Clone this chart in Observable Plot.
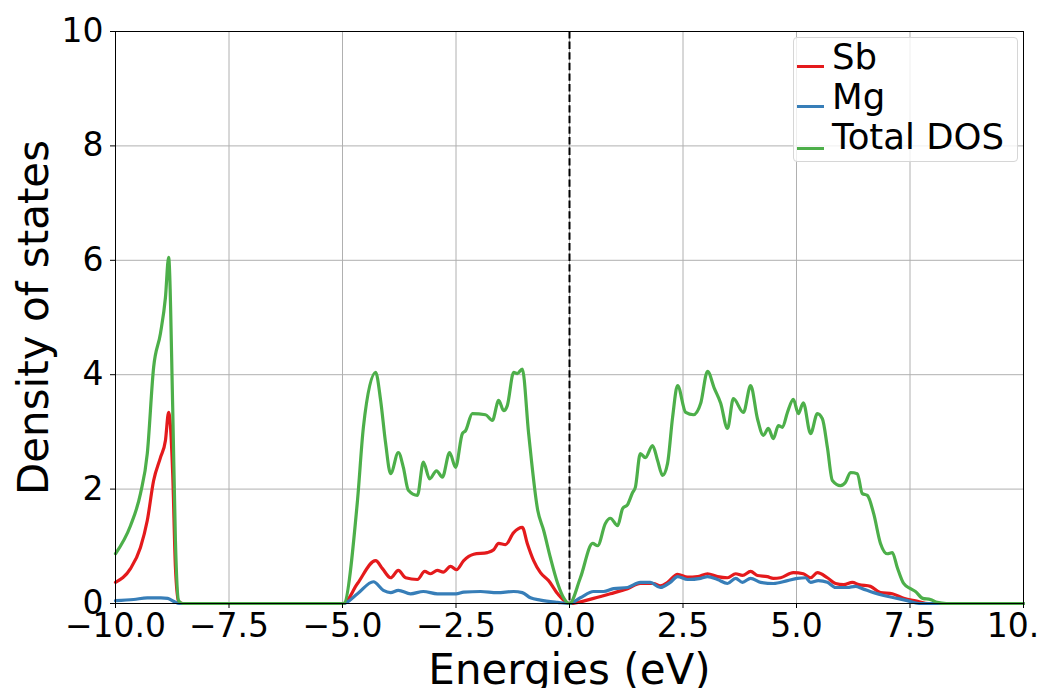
<!DOCTYPE html>
<html>
<head>
<meta charset="utf-8">
<script src="https://cdn.jsdelivr.net/npm/d3@7"></script>
<script src="https://cdn.jsdelivr.net/npm/@observablehq/plot@0.6"></script>
<style>
  html, body { margin: 0; padding: 0; background: white; overflow: hidden; }
  #wrap { position: relative; width: 1039px; height: 688px; overflow: hidden; font-family: "DejaVu Sans", sans-serif; }
  #legend { position: absolute; left: 793px; top: 37px; width: 225px; height: 125px; box-sizing: border-box;
            border: 1px solid #d6d6d6; border-radius: 4px; background: rgba(255,255,255,0.8); }
  .sw { position: absolute; left: 3px; width: 27px; height: 3px; }
  .lt { position: absolute; left: 38px; font-size: 35.5px; line-height: 35.5px; white-space: nowrap; color: black; }
</style>
</head>
<body>
<div id="wrap"></div>
<script>
// ---- data ----
const seriesNames = ["Sb", "Mg", "Total DOS"];
const seriesColors = ["#e41a1c", "#377eb8", "#4daf4a"];

const sbE = [-10, -9.67, -9.45, -9.30, -9.16, -9.01, -8.90, -8.83, -8.74, -8.68, -8.61, -8.52, -4.98, -4.67, -4.27, -4.12, -3.94, -3.77, -3.61, -3.35, -3.19, -3.06, -2.91, -2.78, -2.62, -2.49, -2.33, -2.11, -1.81, -1.67, -1.56, -1.41, -1.23, -1.04, -0.93, -0.79, -0.64, -0.46, -0.26, 0, 0.53, 0.9, 1.28, 1.56, 1.85, 2.0, 2.16, 2.38, 2.60, 2.82, 3.04, 3.26, 3.48, 3.66, 3.81, 3.99, 4.14, 4.36, 4.49, 4.65, 4.93, 5.15, 5.31, 5.46, 5.68, 5.86, 6.04, 6.23, 6.37, 6.63, 6.85, 7.11, 7.36, 7.67, 7.9, 10];
const sbDos = [0.37, 0.61, 0.98, 1.45, 2.15, 2.55, 2.85, 3.34, 2.27, 0.63, 0.03, 0, 0, 0.35, 0.75, 0.61, 0.45, 0.58, 0.45, 0.42, 0.56, 0.52, 0.58, 0.55, 0.65, 0.59, 0.75, 0.86, 0.89, 0.94, 1.05, 1.03, 1.24, 1.33, 1.05, 0.75, 0.54, 0.40, 0.17, 0, 0.09, 0.17, 0.26, 0.35, 0.35, 0.31, 0.37, 0.51, 0.46, 0.47, 0.52, 0.47, 0.45, 0.52, 0.49, 0.56, 0.49, 0.47, 0.44, 0.45, 0.54, 0.52, 0.45, 0.54, 0.45, 0.35, 0.33, 0.37, 0.33, 0.30, 0.19, 0.17, 0.09, 0.04, 0, 0];

const mgE = [-10, -9.6, -9.3, -9.0, -8.85, -8.7, -8.6, -4.98, -4.67, -4.32, -4.10, -3.94, -3.77, -3.50, -3.22, -2.91, -2.5, -2.33, -1.96, -1.59, -1.23, -1.04, -0.86, -0.64, -0.26, 0, 0.24, 0.53, 0.75, 0.97, 1.28, 1.56, 1.78, 2.0, 2.22, 2.38, 2.60, 2.89, 3.04, 3.26, 3.48, 3.66, 3.81, 3.99, 4.21, 4.49, 4.80, 5.02, 5.2, 5.31, 5.48, 5.68, 5.86, 6.12, 6.30, 6.45, 6.70, 6.92, 7.22, 7.44, 7.7, 10];
const mgDos = [0.05, 0.07, 0.10, 0.10, 0.09, 0.03, 0, 0, 0.17, 0.38, 0.23, 0.19, 0.23, 0.17, 0.21, 0.17, 0.17, 0.20, 0.21, 0.19, 0.21, 0.19, 0.10, 0.06, 0.02, 0, 0.10, 0.21, 0.21, 0.26, 0.28, 0.37, 0.37, 0.28, 0.37, 0.47, 0.42, 0.44, 0.47, 0.42, 0.35, 0.44, 0.37, 0.44, 0.37, 0.35, 0.40, 0.44, 0.45, 0.37, 0.40, 0.37, 0.28, 0.28, 0.30, 0.26, 0.19, 0.14, 0.09, 0.05, 0, 0];

const totalE = [-10, -9.67, -9.45, -9.30, -9.16, -9.01, -8.90, -8.83, -8.74, -8.68, -8.61, -8.52, -4.98, -4.67, -4.54, -4.27, -4.16, -4.05, -3.94, -3.77, -3.66, -3.55, -3.35, -3.22, -3.08, -2.93, -2.80, -2.64, -2.51, -2.36, -2.29, -2.14, -1.85, -1.70, -1.56, -1.45, -1.37, -1.23, -1.15, -1.04, -0.90, -0.70, -0.57, -0.42, -0.26, -0.13, 0, 0.24, 0.51, 0.62, 0.79, 0.90, 1.06, 1.17, 1.28, 1.39, 1.45, 1.56, 1.67, 1.83, 1.94, 2.05, 2.16, 2.27, 2.38, 2.56, 2.73, 2.89, 3.04, 3.19, 3.33, 3.48, 3.61, 3.83, 3.99, 4.14, 4.27, 4.38, 4.49, 4.60, 4.69, 4.80, 4.93, 5.04, 5.15, 5.31, 5.46, 5.57, 5.68, 5.79, 5.97, 6.08, 6.19, 6.34, 6.45, 6.56, 6.70, 6.85, 7.00, 7.11, 7.22, 7.36, 7.51, 7.62, 7.78, 7.95, 8.1, 8.3, 10];
const totalDos = [0.87, 1.36, 1.92, 2.62, 4.13, 4.72, 5.35, 6.05, 3.43, 1.10, 0.05, 0, 0, 1.80, 3.08, 4.04, 3.55, 2.80, 2.27, 2.64, 2.38, 1.98, 1.89, 2.47, 2.18, 2.32, 2.21, 2.64, 2.38, 2.97, 3.02, 3.32, 3.30, 3.20, 3.55, 3.37, 3.46, 4.04, 4.02, 4.10, 2.97, 1.63, 1.28, 0.80, 0.35, 0.10, 0, 0.45, 1.05, 1.01, 1.40, 1.49, 1.36, 1.66, 1.73, 1.94, 2.03, 2.62, 2.55, 2.76, 2.50, 2.24, 2.45, 3.25, 3.81, 3.34, 3.30, 3.50, 4.06, 3.76, 3.50, 3.06, 3.58, 3.34, 3.81, 3.23, 2.94, 3.06, 2.88, 3.11, 3.08, 3.34, 3.57, 3.32, 3.51, 2.97, 3.32, 3.23, 2.73, 2.15, 2.06, 2.12, 2.29, 2.27, 1.92, 1.89, 1.57, 1.05, 0.87, 0.89, 0.63, 0.35, 0.26, 0.21, 0.09, 0.07, 0.02, 0, 0];

const xTicks = [-10, -7.5, -5, -2.5, 0, 2.5, 5, 7.5, 10];
const yTicks = [0, 2, 4, 6, 8, 10];
const xLabel = "Energies (eV)";
const yLabel = "Density of states";

// ---- build table ----
const rows = [];
[[sbE, sbDos], [mgE, mgDos], [totalE, totalDos]].forEach(([es, vs], i) => {
  es.forEach((e, j) => rows.push({series: seriesNames[i], E: e, v: vs[j]}));
});

const fmtX = d => (d < 0 ? "\u2212" : "") + Math.abs(d).toFixed(1);

const chart = Plot.plot({
  width: 1039,
  height: 688,
  marginLeft: 115,
  marginRight: 16,
  marginTop: 31,
  marginBottom: 85,
  style: {fontFamily: "DejaVu Sans, sans-serif", background: "white", overflow: "visible"},
  x: {domain: [-10, 10]},
  y: {domain: [0, 10]},
  color: {domain: seriesNames, range: seriesColors},
  marks: [
    Plot.gridX(xTicks, {stroke: "#b0b0b0", strokeOpacity: 1, strokeWidth: 1}),
    Plot.gridY(yTicks, {stroke: "#b0b0b0", strokeOpacity: 1, strokeWidth: 1}),
    Plot.line(rows, {x: "E", y: "v", z: "series", stroke: "series", strokeWidth: 3.2, curve: "monotone-x"}),
    Plot.ruleX([0], {stroke: "black", strokeWidth: 2, strokeDasharray: "7.4,3.2"}),
    Plot.frame({stroke: "black", strokeWidth: 1}),
    Plot.axisX(xTicks, {tickSize: 5, tickPadding: 5, fontSize: 33, tickFormat: fmtX, label: null, stroke: "black"}),
    Plot.axisY(yTicks, {tickSize: 5, tickPadding: 7, fontSize: 33, tickFormat: d => String(d), label: null, stroke: "black"}),
    Plot.text([xLabel], {frameAnchor: "bottom", dy: 80, lineAnchor: "bottom", textAnchor: "middle", fontSize: 42, fill: "black"}),
    Plot.text([yLabel], {frameAnchor: "left", dx: -68, rotate: -90, lineAnchor: "bottom", textAnchor: "middle", fontSize: 42, fill: "black"})
  ]
});

const wrap = document.getElementById("wrap");
wrap.appendChild(chart);

// legend
const legend = document.createElement("div");
legend.id = "legend";
const swatchY = [28, 68, 110];
const baseY = [31, 71, 111];
seriesNames.forEach((name, i) => {
  const sw = document.createElement("div");
  sw.className = "sw";
  sw.style.top = (swatchY[i] - 1.5) + "px";
  sw.style.background = seriesColors[i];
  legend.appendChild(sw);
  const t = document.createElement("div");
  t.className = "lt";
  t.style.top = (baseY[i] - 30) + "px";
  t.textContent = name;
  legend.appendChild(t);
});
wrap.appendChild(legend);
</script>
</body>
</html>
